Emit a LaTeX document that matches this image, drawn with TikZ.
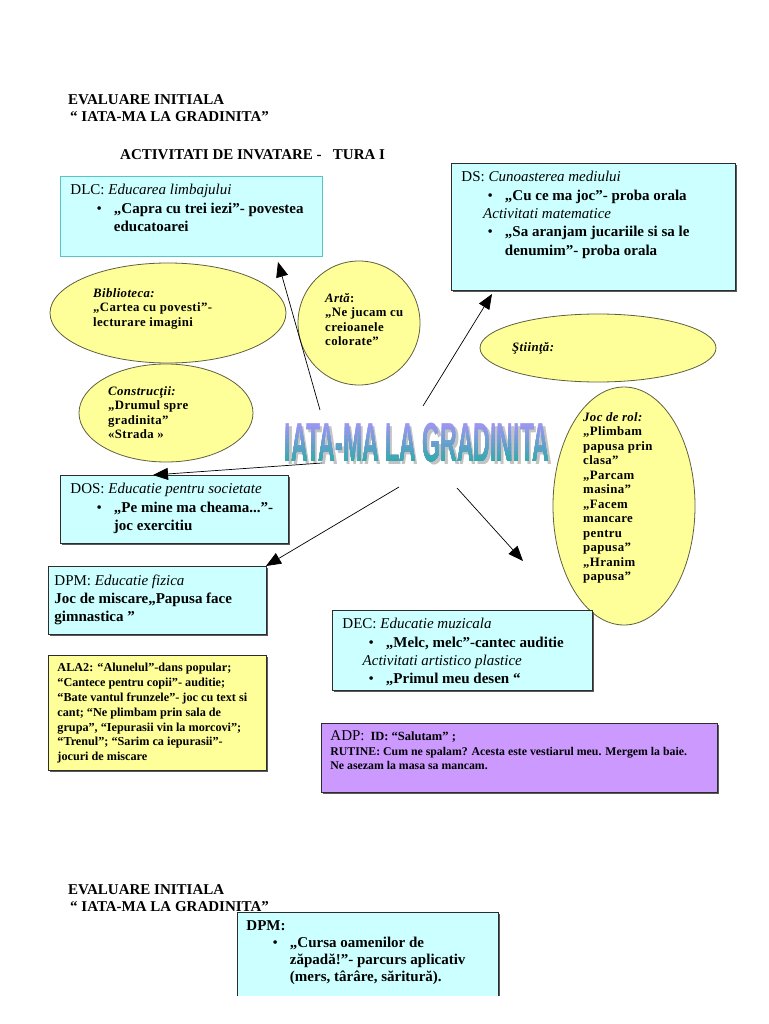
\documentclass[tikz,border=0pt]{standalone}
\usepackage{fontspec}
\setmainfont{Liberation Serif}
\newfontfamily\titlufont{Liberation Sans}
\newfontfamily\elipsafont[LetterSpace=3]{Liberation Serif}
\usepackage{tikz}
\usetikzlibrary{
  shapes.geometric,
  arrows.meta,
  shadows
}
\definecolor{cutiecyan}{RGB}{204, 255, 255}
\definecolor{margineteal}{RGB}{90, 195, 200}
\definecolor{cutiegalben}{RGB}{255, 255, 153}
\definecolor{cutiemov}{RGB}{204, 153, 255}
\definecolor{marginecolor}{RGB}{45, 45, 45}
\definecolor{elipsamargine}{RGB}{95, 95, 65}
\definecolor{titlusus}{RGB}{155, 150, 240}
\definecolor{titlujos}{RGB}{50, 170, 170}
\definecolor{umbracolor}{RGB}{195, 195, 195}
\newcommand{\textcutie}{\fontsize{15}{18.3}\selectfont}
\newcommand{\textmic}{\fontsize{12.2}{14.8}\selectfont}
\newcommand{\punct}{\par\hangindent=2.9em\hangafter=1\noindent\hspace*{1.75em}\makebox[1.15em][l]{\textbullet}}
\newcommand{\continut}[3]{\begin{minipage}[t][#2][t]{#1}\raggedright #3\end{minipage}}
\tikzset{
cutie/.style={
  draw=marginecolor,
  line width=0.9pt,
  fill=cutiecyan,
  anchor=north west,
  inner xsep=10pt,
  inner ysep=8pt,
  font=\textcutie
},
cutieumbra/.style={
  cutie,
  drop shadow={shadow xshift=1.3pt, shadow yshift=-1.3pt, fill=black!65, opacity=1}
},
elipsa/.style={
  draw=elipsamargine,
  line width=0.8pt,
  fill=cutiegalben
},
elipsatext/.style={
  anchor=north west,
  inner sep=0pt,
  align=left,
  font=\elipsafont\fontsize{12.8}{14.5}\selectfont\bfseries
},
headerlabel/.style={
  anchor=north west,
  inner sep=0pt,
  align=left,
  font=\fontsize{15}{17}\selectfont\bfseries
},
titlelabel/.style={
  inner sep=0pt,
  font=\titlufont\bfseries\fontsize{55}{55}\selectfont,
  xscale=0.42
},
sageata/.style={
  -{Triangle[length=15pt,width=12pt]},
  line width=0.7pt,
  draw=black
}
}

\begin{document}
\begin{tikzpicture}[x=1pt, y=-1pt]
  \useasboundingbox (0,0) rectangle (768,1024);
  \fill[white] (0,0) rectangle (768,1024);

  % antet
  \node[headerlabel] (evaluare) at (68,94) {EVALUARE INITIALA\\\hspace*{2pt}“ IATA-MA LA GRADINITA”};
  \node[headerlabel] (activitati) at (120,149) {ACTIVITATI DE INVATARE -\ \ \ TURA I};

  % centri de interes
  \draw[elipsa] (168,313) ellipse [x radius=118, y radius=50];
  \draw[elipsa] (359,323) ellipse [x radius=61, y radius=62];
  \draw[elipsa] (598,348) ellipse [x radius=118, y radius=34];
  \draw[elipsa] (166,413) ellipse [x radius=87, y radius=49];
  \draw[elipsa] (624,506) ellipse [x radius=71, y radius=119];
  \node[elipsatext] (biblioteca) at (93,288) {\textit{Biblioteca:}\\„Cartea cu povesti”-\\lecturare imagini};
  \node[elipsatext] (arta) at (325,293) {\textit{Artă}:\\„Ne jucam cu\\creioanele\\colorate”};
  \node[elipsatext] (stiinta) at (512,342) {\textit{Ştiinţă:}};
  \node[elipsatext] (constructii) at (108,386) {\textit{Construcţii:}\\„Drumul spre\\gradinita”\\«Strada »};
  \node[elipsatext] (jocrol) at (583,412) {\textit{Joc de rol:}\\„Plimbam\\papusa prin\\clasa”\\„Parcam\\masina”\\„Facem\\mancare\\pentru\\papusa”\\„Hranim\\papusa”};

  % tema
  \node[titlelabel, text=umbracolor] (umbra) at (419.5,445.5) {IATA-MA LA GRADINITA};
  \node[titlelabel, text=titlusus] (titlu) at (417,443) {IATA-MA LA GRADINITA};
  \foreach \k in {1,...,9}{
    \pgfmathtruncatemacro{\procent}{100-11*\k}
    \begin{scope}
      \clip (270,{423+4*\k}) rectangle (565,480);
      \node[titlelabel, text=titlusus!\procent!titlujos] (titlu-\k) at (417,443) {IATA-MA LA GRADINITA};
    \end{scope}
  }

  % domenii
  \node[cutie, draw=margineteal] (dlc) at (60,176) {\continut{242pt}{64pt}{DLC: \textit{Educarea limbajului}\punct\textbf{„Capra cu trei iezi”- povestea\newline educatoarei}}};
  \node[cutieumbra] (ds) at (451,163) {\continut{264pt}{111pt}{DS: \textit{Cunoasterea mediului}\punct\textbf{„Cu ce ma joc”- proba orala}\par\hspace*{1.45em}\textit{Activitati matematice}\punct\textbf{„Sa aranjam jucariile si sa le\newline denumim”- proba orala}}};
  \node[cutieumbra] (dos) at (60,475) {\continut{208pt}{52pt}{DOS: \textit{Educatie pentru societate}\punct\textbf{„Pe mine ma cheama...”-\newline joc exercitiu}}};
  \node[cutieumbra, inner xsep=6pt] (dpm) at (48,566) {\continut{206pt}{52pt}{DPM: \textit{Educatie fizica}\newline\textbf{\ Joc de miscare„Papusa face\newline gimnastica ”}}};
  \node[cutieumbra, fill=cutiegalben, inner xsep=9pt] (ala) at (48,655) {\continut{200pt}{99pt}{\textmic\bfseries ALA2: “Alunelul”-dans popular;\newline “Cantece pentru copii”- auditie;\newline “Bate vantul frunzele”- joc cu text si\newline cant; “Ne plimbam prin sala de\newline grupa”, “Iepurasii vin la morcovi”;\newline “Trenul”; “Sarim ca iepurasii”-\newline jocuri de miscare}};
  \node[cutieumbra] (dec) at (332,610) {\continut{240pt}{64pt}{DEC: \textit{Educatie muzicala}\punct\textbf{„Melc, melc”-cantec auditie}\par\hspace*{1.35em}\textit{Activitati artistico plastice}\punct\textbf{„Primul meu desen “}}};
  \node[cutieumbra, fill=cutiemov, inner xsep=9pt, inner ysep=7pt] (adp) at (321,723) {\continut{378pt}{55pt}{\fontsize{11.8}{14.8}\selectfont{\textcutie ADP:}\ \ \textbf{\fontsize{12.5}{14.8}\selectfont ID: “Salutam” ;}\newline\textbf{RUTINE: Cum ne spalam? Acesta este vestiarul meu. Mergem la baie.}\newline\textbf{Ne asezam la masa sa mancam.}}};

  % sageti
  \coordinate (s-dlc) at (320,410);
  \coordinate (t-dlc) at (278,262);
  \coordinate (s-ds) at (423,406);
  \coordinate (t-ds) at (492,294);
  \coordinate (s-dos) at (322,463);
  \coordinate (t-dos) at (153,475);
  \coordinate (s-dpm) at (399,487);
  \coordinate (t-dpm) at (266,566);
  \coordinate (s-dec) at (457,488);
  \coordinate (t-dec) at (523,561);
  \draw[sageata] (s-dlc) -- (t-dlc);
  \draw[sageata] (s-ds) -- (t-ds);
  \draw[sageata] (s-dos) -- (t-dos);
  \draw[sageata] (s-dpm) -- (t-dpm);
  \draw[sageata] (s-dec) -- (t-dec);

  % pagina urmatoare
  \node[headerlabel] (evaluare2) at (68,884) {EVALUARE INITIALA\\\hspace*{2pt}“ IATA-MA LA GRADINITA”};
  \begin{scope}
    \clip (0,0) rectangle (768,995);
    \node[cutieumbra, inner xsep=9pt] (dpm2) at (237,912) {\continut{243pt}{110pt}{\fontsize{15}{17}\selectfont\textbf{DPM:}\punct\textbf{„Cursa oamenilor de\newline zăpadă!”- parcurs aplicativ\newline (mers, târâre, săritură).}}};
  \end{scope}
\end{tikzpicture}
\end{document}
